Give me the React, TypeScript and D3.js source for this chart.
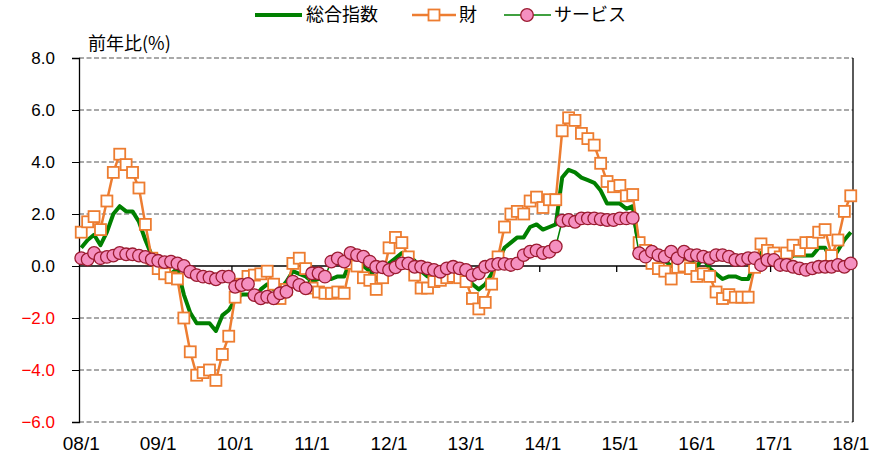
import React, { useEffect, useRef } from 'react'
import * as d3 from 'd3'

// 前年比(%) 月次 08/1 〜 18/1
const yearLabels = ['08/1', '09/1', '10/1', '11/1', '12/1', '13/1', '14/1', '15/1', '16/1', '17/1', '18/1']

const total = [
  0.7, 1.0, 1.2, 0.8, 1.3, 2.0, 2.3, 2.1, 2.1, 1.7, 1.0, 0.4,
  0.0, -0.1, -0.3, -0.1, -1.1, -1.8, -2.2, -2.2, -2.2, -2.5, -1.9, -1.7,
  -1.3, -1.1, -1.1, -1.2, -0.9, -0.7, -0.9, -0.9, -0.6, -0.2, -0.3, -0.4,
  -0.6, -0.5, -0.5, -0.5, -0.4, -0.4, 0.2, 0.2, 0.0, -0.2, -0.5, -0.2,
  0.1, 0.3, 0.5, 0.4, 0.2, -0.2, -0.4, -0.4, -0.3, -0.4, -0.2, -0.1,
  -0.3, -0.7, -0.9, -0.7, -0.3, 0.2, 0.7, 0.9, 1.1, 1.1, 1.5, 1.6,
  1.4, 1.5, 1.6, 3.4, 3.7, 3.6, 3.4, 3.3, 3.2, 2.9, 2.4, 2.4,
  2.4, 2.2, 2.3, 0.6, 0.5, 0.4, 0.2, 0.2, 0.0, 0.3, 0.3, 0.2,
  0.0, 0.3, -0.1, -0.3, -0.5, -0.4, -0.4, -0.5, -0.5, 0.1, 0.5, 0.3,
  0.4, 0.3, 0.2, 0.4, 0.4, 0.4, 0.4, 0.7, 0.7, 0.2, 0.6, 1.0,
  1.3,
]

const goods = [
  1.3, 1.7, 1.9, 1.4, 2.5, 3.6, 4.3, 3.9, 3.6, 3.0, 1.6, 0.3,
  -0.1, -0.3, -0.45, -0.5, -2.0, -3.3, -4.2, -4.1, -4.0, -4.4, -3.4, -2.7,
  -1.2, -0.7, -0.4, -0.35, -0.3, -0.2, -0.7, -1.25, -0.9, 0.1, 0.3, -0.1,
  -0.85, -1.0, -1.05, -1.05, -1.0, -1.05, 0.1, 0.0, -0.45, -0.55, -0.9, -0.45,
  0.7, 1.1, 0.9, 0.35, -0.35, -0.85, -0.85, -0.6, -0.55, -0.45, -0.4, -0.45,
  -0.6, -1.25, -1.65, -1.4, -0.7, 0.35, 1.5, 2.0, 2.1, 2.0, 2.5, 2.65,
  2.25, 2.55, 2.55, 5.2, 5.7, 5.6, 5.1, 4.9, 4.65, 3.95, 3.25, 3.05,
  3.1, 2.7, 2.75, 0.9, 0.6, 0.1, -0.1, -0.2, -0.5, -0.05, 0.0, -0.1,
  -0.4, -0.3, -0.4, -1.0, -1.25, -1.1, -1.2, -1.2, -1.2, -0.05, 0.85, 0.6,
  0.5, 0.35, 0.5, 0.8, 0.6, 0.9, 0.9, 1.3, 1.4, 0.4, 1.0, 2.1,
  2.7,
]

const services = [
  0.3, 0.25, 0.5, 0.3, 0.35, 0.4, 0.5, 0.45, 0.45, 0.4, 0.35, 0.25,
  0.2, 0.15, 0.17, 0.1, 0.0, -0.22, -0.35, -0.41, -0.44, -0.51, -0.41, -0.41,
  -0.8, -0.73, -0.69, -1.12, -1.24, -1.18, -1.24, -1.05, -0.99, -0.6, -0.73, -0.86,
  -0.28, -0.28, -0.41, 0.17, 0.29, 0.17, 0.5, 0.42, 0.36, 0.17, -0.03, -0.05,
  -0.15, -0.05, 0.1, 0.1, -0.03, -0.03, -0.09, -0.15, -0.22, -0.09, -0.03, -0.09,
  -0.15, -0.35, -0.28, -0.03, 0.04, 0.08, 0.08, 0.04, 0.1, 0.42, 0.55, 0.6,
  0.5, 0.55, 0.75, 1.74, 1.77, 1.7, 1.83, 1.83, 1.83, 1.8, 1.77, 1.77,
  1.83, 1.83, 1.85, 0.49, 0.36, 0.55, 0.42, 0.36, 0.55, 0.3, 0.55, 0.42,
  0.42, 0.36, 0.3, 0.42, 0.42, 0.36, 0.23, 0.23, 0.3, 0.3, 0.04, 0.23,
  0.23, 0.04, 0.04, -0.03, -0.09, -0.15, -0.09, -0.03, -0.03, -0.03, 0.04, -0.03,
  0.1,
]

const yTicks = [8, 6, 4, 2, 0, -2, -4, -6]

const GREEN = '#008000'
const ORANGE = '#ED7D31'
const PINK = '#F590C0'
const DARKRED = '#9B1B30'
const NUM_FONT = '"Liberation Sans", Arial, sans-serif'
const JP_FONT = '"Noto Sans CJK JP", "Noto Sans", sans-serif'

export default function App() {
  const ref = useRef<SVGSVGElement>(null)

  useEffect(() => {
    const svg = d3.select(ref.current)
    svg.selectAll('*').remove()

    const left = 79, right = 853, top = 58, bottom = 422
    const idx = d3.range(total.length)

    const x = d3.scalePoint<number>().domain(idx).range([left, right]).padding(0.35)
    const step = x.step()
    const y = d3.scaleLinear().domain([-6, 8]).range([bottom, top])

    // grid lines
    svg.append('g').selectAll('line').data(yTicks.filter(d => d !== 0)).join('line')
      .attr('x1', left).attr('x2', right)
      .attr('y1', d => y(d)).attr('y2', d => y(d))
      .attr('stroke', '#555').attr('stroke-width', 1.2)
      .attr('stroke-dasharray', '5,2.5')

    // y axis
    const yAxis = svg.append('g').attr('transform', `translate(${left},0)`)
      .call(d3.axisLeft(y).tickValues(yTicks).tickSize(7).tickPadding(17).tickFormat(d3.format('.1f')))
    yAxis.select('.domain').attr('stroke', '#000').attr('stroke-width', 1.3)
    yAxis.selectAll('.tick line').attr('stroke', '#000')
    yAxis.selectAll('.tick text')
      .attr('font-family', NUM_FONT).attr('font-size', 17)
      .attr('fill', (d: any) => (d < 0 ? '#FF0000' : '#000'))

    // right border
    svg.append('line').attr('x1', right).attr('x2', right).attr('y1', top).attr('y2', bottom)
      .attr('stroke', '#000').attr('stroke-width', 1.3)

    // zero axis with year ticks
    svg.append('line').attr('x1', left).attr('x2', right).attr('y1', y(0)).attr('y2', y(0))
      .attr('stroke', '#000').attr('stroke-width', 1.3)
    const yearIdx = yearLabels.map((_, i) => i * 12)
    svg.append('g').selectAll('line').data(yearIdx.slice(1)).join('line')
      .attr('x1', d => (x(d) as number) - step / 2).attr('x2', d => (x(d) as number) - step / 2)
      .attr('y1', y(0)).attr('y2', y(0) + 6)
      .attr('stroke', '#000').attr('stroke-width', 1.3)

    // x labels
    svg.append('g').selectAll('text').data(yearIdx).join('text')
      .attr('x', d => x(d) as number).attr('y', 450)
      .attr('text-anchor', 'middle')
      .attr('font-family', NUM_FONT).attr('font-size', 19)
      .text((d, i) => yearLabels[i])

    const line = (arr: number[]) => d3.line<number>().x(i => x(i) as number).y(i => y(arr[i]))(idx)

    // 総合指数
    svg.append('path').attr('d', line(total)).attr('fill', 'none')
      .attr('stroke', GREEN).attr('stroke-width', 4).attr('stroke-linejoin', 'round')

    // 財
    svg.append('path').attr('d', line(goods)).attr('fill', 'none')
      .attr('stroke', ORANGE).attr('stroke-width', 2.5)
    svg.append('g').selectAll('rect').data(idx).join('rect')
      .attr('x', i => (x(i) as number) - 5.5).attr('y', i => y(goods[i]) - 5.5)
      .attr('width', 11).attr('height', 11)
      .attr('fill', '#fff').attr('stroke', ORANGE).attr('stroke-width', 1.8)

    // サービス
    svg.append('path').attr('d', line(services)).attr('fill', 'none')
      .attr('stroke', GREEN).attr('stroke-width', 1.5)
    svg.append('g').selectAll('circle').data(idx).join('circle')
      .attr('cx', i => x(i) as number).attr('cy', i => y(services[i]))
      .attr('r', 6.3)
      .attr('fill', PINK).attr('stroke', DARKRED).attr('stroke-width', 1.3)

    // axis title
    svg.append('text').attr('x', 88).attr('y', 50)
      .attr('font-family', JP_FONT).attr('font-size', 18).text('前年比(%)')

    // legend
    const lg = svg.append('g')
    const ly = 15
    lg.append('line').attr('x1', 255).attr('x2', 302).attr('y1', ly).attr('y2', ly)
      .attr('stroke', GREEN).attr('stroke-width', 4)
    lg.append('text').attr('x', 306).attr('y', ly + 6)
      .attr('font-family', JP_FONT).attr('font-size', 18).text('総合指数')
    lg.append('line').attr('x1', 412).attr('x2', 456).attr('y1', ly).attr('y2', ly)
      .attr('stroke', ORANGE).attr('stroke-width', 2.5)
    lg.append('rect').attr('x', 434 - 5.5).attr('y', ly - 5.5).attr('width', 11).attr('height', 11)
      .attr('fill', '#fff').attr('stroke', ORANGE).attr('stroke-width', 1.8)
    lg.append('text').attr('x', 459).attr('y', ly + 6)
      .attr('font-family', JP_FONT).attr('font-size', 18).text('財')
    lg.append('line').attr('x1', 504).attr('x2', 551).attr('y1', ly).attr('y2', ly)
      .attr('stroke', GREEN).attr('stroke-width', 1.5)
    lg.append('circle').attr('cx', 527).attr('cy', ly).attr('r', 6.3)
      .attr('fill', PINK).attr('stroke', DARKRED).attr('stroke-width', 1.3)
    lg.append('text').attr('x', 554).attr('y', ly + 6)
      .attr('font-family', JP_FONT).attr('font-size', 18).text('サービス')
  }, [])

  return (
    <svg ref={ref} width={879} height={469}
      style={{ position: 'absolute', left: 0, top: 0, background: '#fff' }} />
  )
}
